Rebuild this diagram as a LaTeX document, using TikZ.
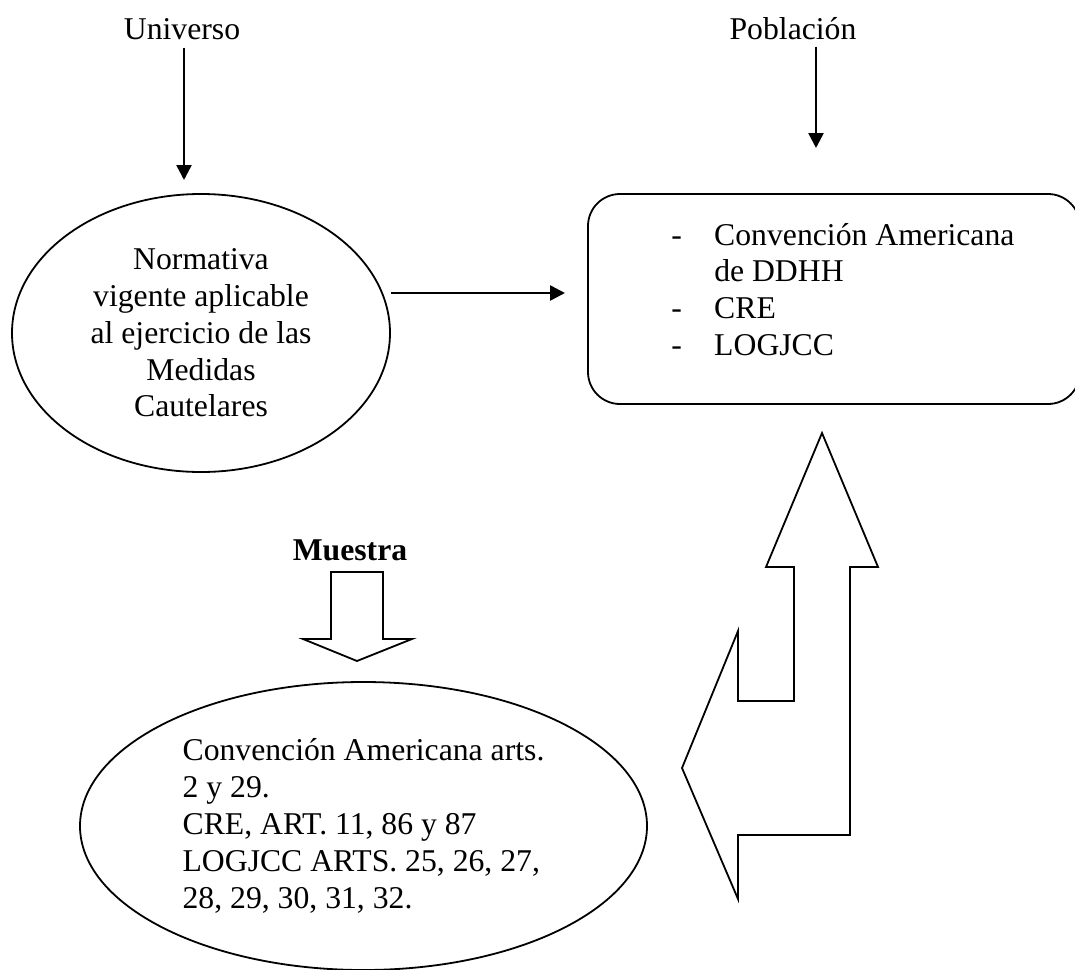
\documentclass[tikz,border=0pt]{standalone}
\usepackage{fontspec}
\setmainfont{Liberation Serif}
\usetikzlibrary{arrows.meta,shapes.geometric}
\tikzstyle{lbl} = [inner sep=0pt, anchor=base]
\tikzstyle{oval} = [ellipse, draw, line width=1.8pt, inner sep=0pt, align=center]
\tikzstyle{bx} = [rectangle, draw, line width=1.8pt, rounded corners=32pt]
\tikzstyle{blk} = [draw, line width=1.8pt, line join=miter]

\begin{document}
\begin{tikzpicture}[x=1pt,y=-1pt,>={Triangle[length=15pt,width=15pt]},
                    line width=2.5pt,
                    every node/.style={font=\fontsize{31.7pt}{36.8pt}\selectfont}]

  \useasboundingbox (0,0) rectangle (1075,969);
  \clip (0,0) rectangle (1075,969);

  \node[lbl]  (1) at (182,39) {Universo};
  \node[oval, minimum width=378pt, minimum height=278pt] (2) at (201,333)
       {Normativa\\vigente aplicable\\al ejercicio de las\\Medidas\\Cautelares};
  \node[lbl]  (3) at (793,39) {Población};
  \node[bx, minimum width=492pt, minimum height=210pt] (4) at (834,299) {};
  \node[lbl, anchor=base west] (5) at (670,245)
       {\begin{tabular}[t]{@{}p{43pt}@{}l@{}}
        -&Convención Americana\\
         &de DDHH\\
        -&CRE\\
        -&LOGJCC
        \end{tabular}};
  \node[lbl, font=\fontsize{31.7pt}{36.8pt}\selectfont\bfseries] (6) at (350,560) {Muestra};
  \node[oval, align=left, minimum width=567pt, minimum height=288pt] (7) at (363.5,826)
       {Convención Americana arts.\\2 y 29.\\CRE, ART. 11, 86 y 87\\LOGJCC ARTS. 25, 26, 27,\\28, 29, 30, 31, 32.};

  \coordinate (a1) at (184,180);
  \coordinate (a2) at (565,293);
  \coordinate (a3) at (816,148);

  \draw[->, shorten <=7pt] (a1 |- 1.south) -- (a1);
  \draw[->] (2.east |- a2) -- (a2);
  \draw[->, shorten <=6pt] (a3 |- 3.south) -- (a3);

  % hollow arrows
  \draw[blk] (331,572) -- (383,572) -- (383,639) -- (412,639) -- (357,661)
             -- (303,639) -- (331,639) -- cycle;
  \draw[blk] (822,433) -- (878,567) -- (850,567) -- (850,835) -- (738,835)
             -- (738,899) -- (682,768) -- (738,631) -- (738,701) -- (794,701)
             -- (794,567) -- (766,567) -- cycle;
\end{tikzpicture}
\end{document}
